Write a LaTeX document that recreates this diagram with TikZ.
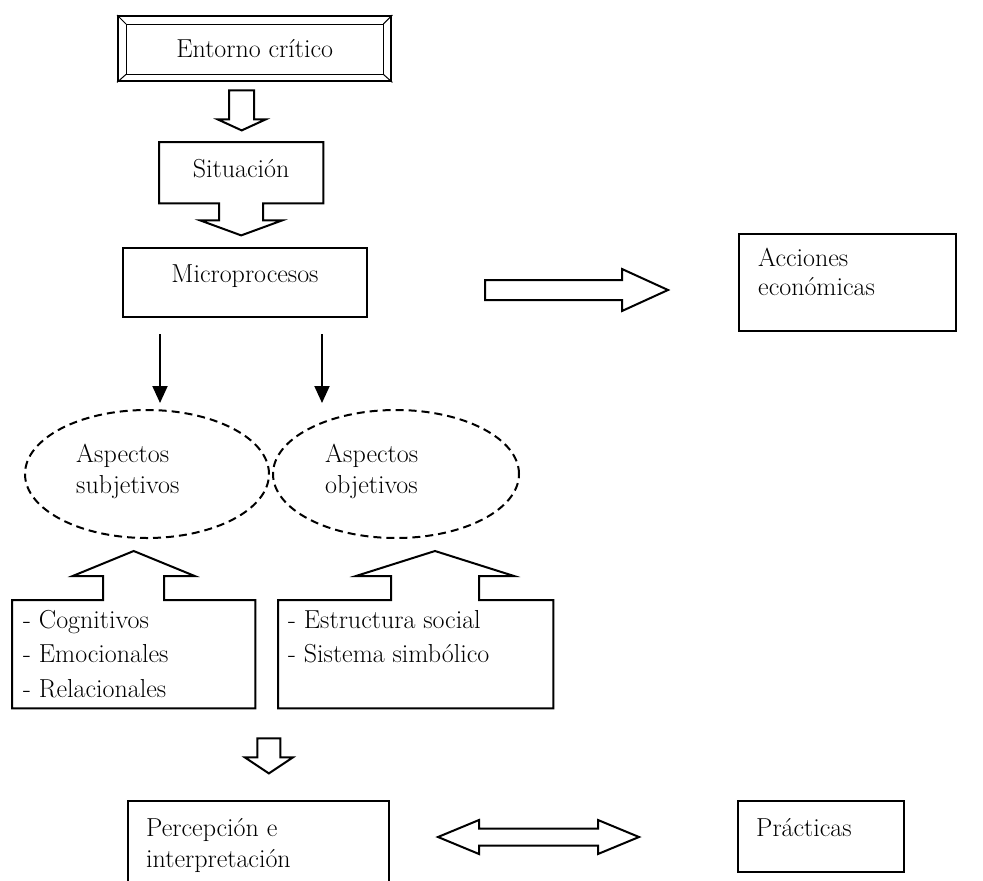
\documentclass[tikz,border=0pt]{standalone}
\usepackage{tikz}
\usetikzlibrary{positioning}
\usetikzlibrary{calc}
\usetikzlibrary{shapes.geometric}
\usetikzlibrary{arrows.meta}

\begin{document}
\begin{tikzpicture}[x=1pt,y=-1pt]
		\tikzset{
			textnode/.style={text=black,font=\fontsize{26}{31}\selectfont,inner sep=0pt},
		}
		\tikzset{
			edge/.style={color=black,line width=2pt,line join=miter},
			boxnode/.style={draw=black,line width=2pt,inner sep=0pt,anchor=north west},
			blank/.style={inner sep=0pt,anchor=north west},
			cloud/.style={ellipse,draw=black,line width=2pt,dash pattern=on 8pt off 5pt,inner sep=0pt},
			hollow/.style={draw=black,line width=2pt,line join=miter,fill=white},
		}
		\clip (0,0) rectangle (983,881);
		
		\node[boxnode,line width=2.4pt,minimum width=273pt,minimum height=65pt] (ent) at (117,15) {};
		\node[blank,minimum width=164pt,minimum height=61pt] (sit) at (159,142) {};
		\node[boxnode,minimum width=244pt,minimum height=69pt] (mic) at (122,247) {};
		\node[boxnode,minimum width=217pt,minimum height=97pt] (acc) at (738,233) {};
		
		\node[cloud,minimum width=244pt,minimum height=128pt] (subj) at (147,474) {};
		\node[cloud,minimum width=246pt,minimum height=128pt] (obj) at (396,474) {};
		
		\node[blank,minimum width=243pt,minimum height=108pt] (cog) at (12,600) {};
		\node[blank,minimum width=275pt,minimum height=108pt] (est) at (278,600) {};
		
		\node[boxnode,minimum width=261pt,minimum height=100pt] (per) at (127,800) {};
		\node[boxnode,minimum width=166pt,minimum height=71pt] (pra) at (737,800) {};
		
		\draw[line width=1pt] ($(ent.north west)+(9,9)$) rectangle ($(ent.south east)+(-9,-8)$);
		\draw[line width=1pt] (ent.north west) -- +(9,9);
		\draw[line width=1pt] (ent.north east) -- +(-9,9);
		\draw[line width=1pt] (ent.south west) -- +(9,-8);
		\draw[line width=1pt] (ent.south east) -- +(-9,-8);
		
		\draw[edge] (sit.north west) -- (sit.north east) -- (sit.south east) -- ($(sit.south)+(22,0)$) -- ++(0,17) -- ++(19,0) -- ($(sit.south)+(0,32)$) -- ++(-41,-15) -- ++(19,0) -- ++(0,-17) -- (sit.south west) -- cycle;
		\draw[edge] (cog.south west) -- (cog.north west) -- ($(cog.north)+(-30.5,0)$) -- ++(0,-24) -- ++(-30.5,0) -- ($(cog.north)+(0,-49)$) -- ++(61,25) -- ++(-30.5,0) -- ++(0,24) -- (cog.north east) -- (cog.south east) -- cycle;
		\coordinate (ea) at ($(est.north west)+(157,0)$);
		\draw[edge] (est.south west) -- (est.north west) -- ($(ea)+(-44,0)$) -- ++(0,-24) -- ++(-35,0) -- ($(ea)+(0,-49)$) -- ++(79,25) -- ++(-35,0) -- ++(0,24) -- (est.north east) -- (est.south east) -- cycle;
		
		\node[textnode,anchor=base] (entT) at ($(ent.north)+(0,42)$) {Entorno crítico};
		\node[textnode,anchor=base] (sitT) at ($(sit.north)+(0,35)$) {Situación};
		\node[textnode,anchor=base] (micT) at ($(mic.north)+(0,35)$) {Microprocesos};
		\node[textnode,anchor=base west] (accT) at ($(acc.north west)+(20,33)$) {Acciones};
		\node[textnode,anchor=base west] (accT2) at ($(acc.north west)+(20,62)$) {económicas};
		\node[textnode,anchor=base west] (subjT) at ($(subj.center)+(-71,-12)$) {Aspectos};
		\node[textnode,anchor=base west] (subjT2) at ($(subj.center)+(-71,19)$) {subjetivos};
		\node[textnode,anchor=base west] (objT) at ($(obj.center)+(-71,-12)$) {Aspectos};
		\node[textnode,anchor=base west] (objT2) at ($(obj.center)+(-71,19)$) {objetivos};
		\node[textnode,anchor=base west] (cogT) at ($(cog.north west)+(11,28)$) {- Cognitivos};
		\node[textnode,anchor=base west] (cogT2) at ($(cog.north west)+(11,62)$) {- Emocionales};
		\node[textnode,anchor=base west] (cogT3) at ($(cog.north west)+(11,97)$) {- Relacionales};
		\node[textnode,anchor=base west] (estT) at ($(est.north west)+(10,28)$) {- Estructura social};
		\node[textnode,anchor=base west] (estT2) at ($(est.north west)+(10,62)$) {- Sistema simbólico};
		\node[textnode,anchor=base west] (perT) at ($(per.north west)+(19,36)$) {Percepción e};
		\node[textnode,anchor=base west] (perT2) at ($(per.north west)+(19,67)$) {interpretación};
		\node[textnode,anchor=base west] (praT) at ($(pra.north west)+(19,36)$) {Prácticas};
		
		\coordinate (d1) at ($(ent.south)+(-13,8)$);
		\draw[hollow] ($(d1)+(-12.5,0)$) -- ++(25,0) -- ++(0,29) -- ++(11.5,0) -- ++(-24,11) -- ++(-24,-11) -- ++(11.5,0) -- cycle;
		\coordinate (r1) at ($(mic.east)+(117,7.5)$);
		\draw[hollow] ($(r1)+(0,-10)$) -- ++(137,0) -- ++(0,-11) -- ++(46,21) -- ++(-46,21) -- ++(0,-11) -- ++(-137,0) -- cycle;
		\coordinate (t1) at ($(mic.south)+(-85,16)$);
		\coordinate (t2) at ($(mic.south)+(77,16)$);
		\draw[-{Triangle[width=15pt,length=17pt]},edge] (t1) -- ($(t1 |- subj.north)+(0,-6)$);
		\draw[-{Triangle[width=15pt,length=17pt]},edge] (t2) -- ($(t2 |- obj.north)+(0,-6)$);
		\coordinate (d2) at ($(cog.south east)+(13.5,30)$);
		\draw[hollow] ($(d2)+(-11.5,0)$) -- ++(23,0) -- ++(0,19) -- ++(12.5,0) -- ++(-24,16) -- ++(-24,-16) -- ++(12.5,0) -- cycle;
		\coordinate (lr) at ($(per.north east)+(48,37)$);
		\draw[hollow] (lr) -- ++(41,-17) -- ++(0,8.5) -- ++(119,0) -- ++(0,-8.5) -- ++(41,17) -- ++(-41,17) -- ++(0,-8.5) -- ++(-119,0) -- ++(0,8.5) -- cycle;
	\end{tikzpicture}
\end{document}
